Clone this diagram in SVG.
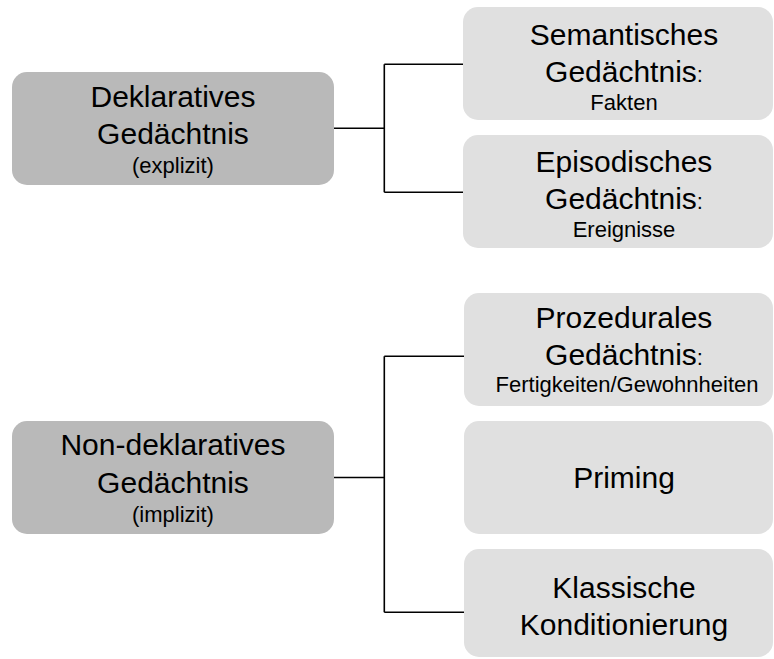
<svg xmlns="http://www.w3.org/2000/svg" width="774" height="659" viewBox="0 0 774 659">
<style>
.dark{fill:#b9b9b9}
.light{fill:#e0e0e0}
text{font-family:"Liberation Sans",Arial,sans-serif;fill:#000;text-anchor:middle}
.b{font-size:30px}
.s{font-size:22px}
.conn{stroke:#000;stroke-width:1.6;fill:none}
</style>
<rect width="774" height="659" fill="#fff"/>
<g id="connectors">
<path class="conn" d="M334 128.3H384.3M384.3 64.3V192.3M384.3 64.3H463M384.3 192.3H463"/>
<path class="conn" d="M334 477.5H384.3M384.3 356.3V612.3M384.3 356.3H464M384.3 612.3H464"/>
</g>
<g id="deklarativ">
<rect class="dark" x="12" y="72" width="322" height="113" rx="15"/>
<text class="b" x="173" y="107">Deklaratives</text>
<text class="b" x="173" y="144">Gedächtnis</text>
<text class="s" x="173" y="173">(explizit)</text>
</g>
<g id="semantisch">
<rect class="light" x="463" y="7" width="310" height="113" rx="15"/>
<text class="b" x="624" y="45">Semantisches</text>
<text class="b" x="624" y="82">Gedächtnis<tspan class="s">:</tspan></text>
<text class="s" x="624" y="110">Fakten</text>
</g>
<g id="episodisch">
<rect class="light" x="463" y="135" width="310" height="113" rx="15"/>
<text class="b" x="624" y="172">Episodisches</text>
<text class="b" x="624" y="209">Gedächtnis<tspan class="s">:</tspan></text>
<text class="s" x="624" y="237">Ereignisse</text>
</g>
<g id="nondeklarativ">
<rect class="dark" x="12" y="421" width="322" height="113" rx="15"/>
<text class="b" x="173" y="455">Non-deklaratives</text>
<text class="b" x="173" y="493">Gedächtnis</text>
<text class="s" x="173" y="522">(implizit)</text>
</g>
<g id="prozedural">
<rect class="light" x="464" y="293" width="309" height="113" rx="15"/>
<text class="b" x="624" y="328">Prozedurales</text>
<text class="b" x="624" y="365">Gedächtnis<tspan class="s">:</tspan></text>
<text class="s" x="627" y="392">Fertigkeiten/Gewohnheiten</text>
</g>
<g id="priming">
<rect class="light" x="464" y="421" width="309" height="113" rx="15"/>
<text class="b" x="624" y="488">Priming</text>
</g>
<g id="konditionierung">
<rect class="light" x="464" y="549" width="309" height="108" rx="15"/>
<text class="b" x="624" y="598">Klassische</text>
<text class="b" x="624" y="635">Konditionierung</text>
</g>
</svg>
